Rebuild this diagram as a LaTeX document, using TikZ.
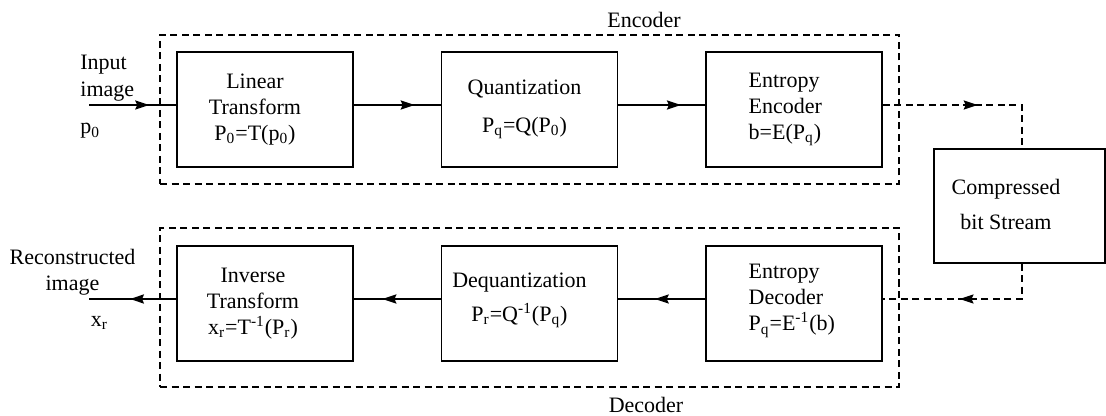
\documentclass[tikz,border=0pt]{standalone}
\usepackage{fontspec}
\setmainfont{Liberation Serif}
\usetikzlibrary{arrows.meta,decorations.markings}

\begin{document}
\begin{tikzpicture}[x=0.5pt,y=-0.5pt,
  font=\fontsize{11}{13}\selectfont,
  blk/.style={draw,line width=0.75pt,minimum width=88pt,minimum height=57.5pt,inner sep=0pt},
  cbox/.style={draw,line width=0.75pt,minimum width=85.5pt,minimum height=57pt,inner sep=0pt},
  grp/.style={draw,line width=0.75pt,dash pattern=on 3.5pt off 2.25pt,inner sep=0pt},
  txt/.style={inner sep=0pt,align=center},
  ltxt/.style={inner sep=0pt,align=left,anchor=west},
  flow/.style={line width=0.75pt},
  dashpat/.style={dash pattern=on 3.5pt off 2.25pt},
  tipat/.style={postaction={decorate},decoration={markings,
    mark=at position #1 with {\arrow{Stealth[length=7pt,width=4.6pt,inset=1pt]}}}},
  ]
\useasboundingbox (0,0) rectangle (1106,416);

% encoder and decoder groups
\node[grp,minimum width=369.5pt,minimum height=74.5pt] (enc) at (529.5,109.5) {};
\node[grp,minimum width=369.5pt,minimum height=79.5pt] (dec) at (529.5,307.5) {};
\node[txt] (enclbl) at (644,19.5) {Encoder};
\node[txt] (declbl) at (646,405) {Decoder};

% encoder stages
\node[blk,label={[txt,xshift=-5pt]center:Linear\\Transform\\P\textsubscript{0}=T(p\textsubscript{0})}] (lt) at (265,109.5) {};
\node[blk,label={[txt,xshift=-2.5pt]center:Quantization\\[6pt]P\textsubscript{q}=Q(P\textsubscript{0})}] (qz) at (529.5,109.5) {};
\node[blk,label={[ltxt,xshift=21.5pt]west:Entropy\\Encoder\\b=E(P\textsubscript{q})}] (ee) at (794,109.5) {};

% decoder stages
\node[blk,label={[txt,xshift=-6pt]center:Inverse\\Transform\\x\textsubscript{r}=T\textsuperscript{-1}(P\textsubscript{r})}] (it) at (265,303.5) {};
\node[blk,label={[txt,xshift=-5pt,yshift=1.75pt]center:Dequantization\\[4pt]P\textsubscript{r}=Q\textsuperscript{-1}(P\textsubscript{q})}] (dq) at (529.5,303.5) {};
\node[blk,label={[ltxt,xshift=21.5pt,yshift=1.25pt]west:Entropy\\Decoder\\P\textsubscript{q}=E\textsuperscript{-1}(b)}] (ed) at (794,303.5) {};

% channel
\node[cbox,label={[txt,xshift=-6.75pt,yshift=0.75pt]center:Compressed\\[4.5pt]bit Stream}] (cbs) at (1019.5,206) {};

% outside labels
\node[ltxt] (inlbl) at (80,78.5) {Input\\[0.5pt]image};
\node[ltxt] (p0lbl) at (80,131) {p\textsubscript{0}};
\node[txt] (reclbl) at (72.5,272.5) {Reconstructed\\image};
\node[txt] (xrlbl) at (99.5,323) {x\textsubscript{r}};

% signal levels and free ends
\coordinate (U) at (0,105);
\coordinate (L) at (0,299);
\coordinate (col) at (1022,0);
\coordinate (inp) at (89,105);
\coordinate (outp) at (89,299);

% connectors
\draw[flow,tipat=0.69] (inp) -- (lt.west |- U);
\draw[flow,tipat=0.7] (lt.east |- U) -- (qz.west |- U);
\draw[flow,tipat=0.72] (qz.east |- U) -- (ee.west |- U);
\draw[flow,dashpat,tipat=0.52] (ee.east |- U) -| (col |- cbs.north);
\draw[flow,dashpat,tipat=0.56] (col |- cbs.south) |- (ed.east |- L);
\draw[flow,tipat=0.58] (ed.west |- L) -- (dq.east |- L);
\draw[flow,tipat=0.67] (dq.west |- L) -- (it.east |- L);
\draw[flow,tipat=0.53] (it.west |- L) -- (outp);
\end{tikzpicture}
\end{document}
